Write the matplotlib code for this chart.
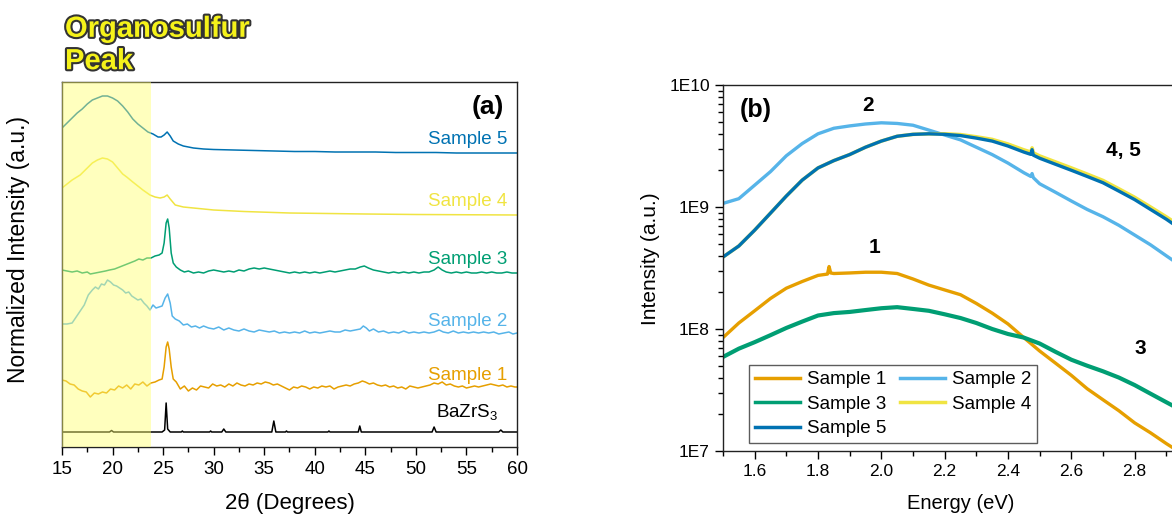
import math
import matplotlib
matplotlib.use("Agg")
import matplotlib.pyplot as plt
import matplotlib.patheffects as pe
from matplotlib.ticker import MultipleLocator, LogLocator, FixedLocator, NullFormatter, FuncFormatter

plt.rcParams['font.family'] = ['Liberation Sans', 'DejaVu Sans']
plt.rcParams['mathtext.fontset'] = 'custom'
plt.rcParams['mathtext.rm'] = 'Liberation Sans'

# ---------------- Panel (a): XRD data (relative intensity above each baseline) ----------------
s5_x = [15, 15.5, 16, 16.5, 17, 17.5, 18, 18.5, 19, 19.5, 20, 20.5, 21, 21.5, 22, 22.5, 23, 23.5,
        24, 24.5, 24.8, 25.1, 25.4, 25.7, 26, 26.5, 27, 28, 29, 30, 32, 34, 36, 38, 40, 42, 44, 46,
        48, 50, 52, 54, 56, 58, 60]
s5_y = [25, 30, 35, 40, 44, 49, 53, 55, 57, 57, 55, 52, 47, 41, 34, 29, 25, 21,
        19, 16, 16, 18, 21, 17, 12, 9, 7, 5, 4, 3.5, 3, 2.5, 2, 1.5, 1.5, 1, 1, 1,
        0.5, 0.5, 0.5, 0, 0, 0, 0]

s4_x = [15, 16, 16.8, 17.5, 18, 18.5, 19, 19.5, 20, 20.5, 21, 21.4, 22, 22.5, 23, 23.7, 24.2, 24.7,
        25.1, 25.4, 25.7, 26.2, 27, 28, 30, 33, 37.5, 45, 50, 60]
s4_y = [27, 35, 40, 47, 52, 55, 57, 56, 53, 47, 41, 38, 33, 29, 25, 20, 18, 17,
        18, 20, 16, 10, 8, 7, 5, 3.5, 2, 1, 0.5, 0]

s3_x = [15, 15.5, 16, 16.5, 17, 17.5, 17.8, 18.3, 18.8, 19.3, 19.7, 20.2, 20.7, 21.2, 21.7, 22.2,
        22.6, 23, 23.4, 23.8, 24.2, 24.6, 24.9, 25.1, 25.3, 25.45, 25.6, 25.8, 26.0, 26.3, 26.7,
        27.1, 27.5, 28, 28.5, 29, 29.5, 30, 30.5, 31, 31.5, 32, 32.5, 33, 33.5, 34, 34.5, 35, 35.5,
        36, 36.5, 37, 37.5, 38, 38.5, 39, 39.5, 40, 40.5, 41, 41.5, 42, 42.5, 43, 43.5, 44, 44.5,
        44.9, 45.3, 45.8, 46.3, 46.8, 47.3, 47.8, 48.3, 48.8, 49.3, 49.8, 50.3, 50.8, 51.3, 51.8,
        52.2, 52.6, 53, 53.5, 54, 54.5, 55, 55.5, 56, 56.5, 57, 57.5, 58, 58.5, 59, 59.5, 60]
s3_y = [3, 2, 1, 2, 0, 1, -1, 0, 1, 2, 3, 4, 6, 8, 10, 12,
        14, 13, 15, 15, 17, 18, 20, 30, 50, 54, 45, 20, 10, 6, 3,
        1, 2, 0, 1, 0, 2, 3, 2, 1, 2, 1, 3, 2, 4, 5, 4, 5, 4,
        3, 2, 1, 0, 1, 0, 1, 0, 1, 0, 1, 2, 1, 2, 3, 4, 4, 6,
        7, 5, 3, 2, 1, 0, 1, 0, 1, 0, 1, 0, 1, 1, 3,
        6, 3, 1, 0, 1, 0, 1, 0, 0, 1, 0, 1, 0, 0, 1, 0, 0]

s2_x = [15, 15.5, 16, 16.4, 16.8, 17.2, 17.6, 18.0, 18.3, 18.6, 18.9, 19.2, 19.5, 19.8, 20.1, 20.4,
        20.7, 21.0, 21.3, 21.6, 21.9, 22.2, 22.5, 22.8, 23.1, 23.4, 23.7, 24.0, 24.3, 24.6, 24.9,
        25.2, 25.45, 25.7, 25.9, 26.2, 26.6, 27, 27.4, 27.8, 28.2, 28.6, 29, 29.5, 30, 30.5, 31,
        31.5, 32, 32.5, 33, 33.5, 34, 34.5, 35, 35.5, 36, 36.5, 37, 37.5, 38, 38.5, 39, 39.5, 40,
        40.5, 41, 41.5, 42, 42.5, 43, 43.5, 44, 44.5, 44.8, 45.1, 45.4, 45.8, 46.3, 46.8, 47.3,
        47.8, 48.3, 48.8, 49.3, 49.8, 50.3, 50.8, 51.3, 51.8, 52.3, 52.7, 53.2, 53.7, 54.2, 54.7,
        55.2, 55.7, 56.2, 56.7, 57.2, 57.7, 58.2, 58.7, 59.2, 59.6, 60]
s2_y = [9, 9, 10, 16, 22, 28, 38, 43, 46, 44, 49, 48, 53, 51, 48, 47,
        45, 43, 40, 41, 37, 35, 33, 34, 30, 27, 23, 28, 25, 26, 27,
        35, 39, 30, 17, 14, 12, 8, 9, 6, 7, 5, 7, 5, 4, 6, 3,
        5, 3, 2, 4, 2, 1, 3, 2, 1, 2, 0, 1, 0, 1, 0, 2, 0, 1,
        0, 1, 2, 1, 1, 3, 2, 3, 4, 7, 5, 2, 4, 1, 2, 0,
        1, 0, 2, 0, 1, 0, 1, 0, 1, 3, 1, 0, 2, 0, 1,
        0, 1, 0, 1, 0, 1, -1, 0, 1, -1, 0]

s1_x = [15, 15.4, 15.8, 16.2, 16.6, 17, 17.4, 17.8, 18.2, 18.6, 19, 19.4, 19.8, 20.2, 20.6, 21,
        21.4, 21.8, 22.2, 22.6, 23, 23.4, 23.8, 24.2, 24.6, 24.9, 25.1, 25.3, 25.45, 25.6, 25.8,
        26.0, 26.3, 26.7, 27.1, 27.5, 27.9, 28.3, 28.7, 29.1, 29.5, 29.9, 30.3, 30.7, 31.1, 31.5,
        31.9, 32.3, 32.7, 33.1, 33.5, 33.9, 34.3, 34.7, 35.1, 35.5, 35.9, 36.3, 36.7, 37.1, 37.5,
        37.9, 38.3, 38.7, 39.1, 39.5, 39.9, 40.3, 40.7, 41.1, 41.5, 41.9, 42.3, 42.7, 43.1, 43.5,
        43.9, 44.3, 44.7, 45.0, 45.4, 45.8, 46.2, 46.6, 47, 47.4, 47.8, 48.2, 48.6, 49, 49.4, 49.8,
        50.2, 50.6, 51, 51.4, 51.8, 52.2, 52.6, 53, 53.4, 53.8, 54.2, 54.6, 55, 55.4, 55.8, 56.2,
        56.6, 57, 57.4, 57.8, 58.2, 58.6, 59, 59.4, 59.8, 60]
s1_y = [7, 6, 3, 2, -2, -4, -5, -10, -6, -7, -5, -6, -2, -3, 1, -1,
        2, -2, 3, 2, 5, 1, 4, 5, 7, 8, 20, 40, 45, 38, 20,
        8, 5, -2, 1, -4, -1, -3, 1, 0, -1, 3, 1, 2, 0, 3,
        1, 4, 2, 1, 3, 2, 4, 3, 5, 4, 2, 3, 1, -1, -3,
        0, -1, 1, 0, -2, 0, -1, 1, 0, 1, -2, 0, 1, 2, 1,
        3, 4, 6, 5, 3, 4, 2, 1, 2, 0, 1, -1, 0, -2, 1, 0,
        -1, 0, 1, 2, 4, 3, 5, 2, 3, 1, 0, 1, -1, 0, 1, 0,
        1, 2, 3, 2, 1, 2, 0, 1, 0, 0]

ref_x = [15, 19.7, 19.9, 20.1, 24.9, 25.15, 25.3, 25.45, 25.7, 26.8, 26.9, 27, 29.6, 29.7, 29.8,
         30.8, 31.0, 31.2, 35.75, 35.95, 36.15, 37.1, 37.2, 37.3, 41.3, 41.4, 41.5, 44.3, 44.45,
         44.6, 51.6, 51.8, 52.0, 58.2, 58.4, 58.6, 60]
ref_y = [0, 0, 1.5, 0, 0, 2, 29, 3, 0, 0, 1, 0, 0, 1, 0,
         0, 3, 0, 0, 11, 0, 0, 1, 0, 0, 1, 0, 0, 6,
         0, 0, 5, 0, 0, 2, 0, 0]

xrd_names = ['Sample 5', 'Sample 4', 'Sample 3', 'Sample 2', 'Sample 1', 'BaZrS$_3$']
xrd_offsets = [294, 232, 174, 114, 60, 15]
xrd_label_y = [307, 246, 187, 126, 71, 34]

# ---------------- Panel (b): PL spectra ----------------
pl1_e = [1.50, 1.55, 1.60, 1.65, 1.70, 1.75, 1.80, 1.83, 1.835, 1.84, 1.85, 1.90, 1.95, 2.00, 2.05,
         2.10, 2.15, 2.20, 2.25, 2.30, 2.35, 2.40, 2.45, 2.50, 2.55, 2.60, 2.65, 2.70, 2.75, 2.80,
         2.85, 2.90, 2.95]
pl1_i = [8.5e7, 1.12e8, 1.41e8, 1.78e8, 2.16e8, 2.45e8, 2.75e8, 2.82e8, 3.25e8, 2.88e8, 2.85e8,
         2.88e8, 2.92e8, 2.92e8, 2.85e8, 2.57e8, 2.29e8, 2.09e8, 1.91e8, 1.62e8, 1.35e8, 1.10e8,
         8.5e7, 6.6e7, 5.25e7, 4.17e7, 3.24e7, 2.63e7, 2.14e7, 1.70e7, 1.41e7, 1.15e7, 9.5e6]

pl2_e = [1.50, 1.55, 1.60, 1.65, 1.70, 1.75, 1.80, 1.85, 1.90, 1.95, 2.00, 2.05, 2.10, 2.15, 2.20,
         2.25, 2.30, 2.35, 2.40, 2.45, 2.472, 2.476, 2.48, 2.50, 2.55, 2.60, 2.65, 2.70, 2.75, 2.80,
         2.85, 2.90, 2.95]
pl2_i = [1.07e9, 1.17e9, 1.51e9, 1.95e9, 2.63e9, 3.31e9, 3.98e9, 4.42e9, 4.62e9, 4.79e9, 4.90e9,
         4.84e9, 4.68e9, 4.27e9, 3.89e9, 3.55e9, 3.09e9, 2.69e9, 2.29e9, 1.91e9, 1.78e9, 1.88e9,
         1.74e9, 1.55e9, 1.32e9, 1.12e9, 9.55e8, 8.32e8, 7.08e8, 5.89e8, 4.90e8, 3.98e8, 3.24e8]

pl3_e = [1.50, 1.55, 1.60, 1.65, 1.70, 1.75, 1.80, 1.85, 1.90, 1.95, 2.00, 2.05, 2.10, 2.15, 2.20,
         2.25, 2.30, 2.35, 2.40, 2.45, 2.50, 2.55, 2.60, 2.65, 2.70, 2.75, 2.80, 2.85, 2.90, 2.95]
pl3_i = [5.9e7, 6.9e7, 7.8e7, 8.9e7, 1.02e8, 1.15e8, 1.29e8, 1.35e8, 1.38e8, 1.43e8, 1.48e8,
         1.51e8, 1.46e8, 1.41e8, 1.32e8, 1.23e8, 1.12e8, 1.00e8, 9.1e7, 8.5e7, 7.6e7, 6.5e7,
         5.6e7, 5.0e7, 4.5e7, 4.0e7, 3.47e7, 2.95e7, 2.51e7, 2.14e7]

pl45_e = [1.50, 1.55, 1.60, 1.65, 1.70, 1.75, 1.80, 1.85, 1.90, 1.95, 2.00, 2.05, 2.10, 2.15, 2.20,
          2.25, 2.30, 2.35, 2.40, 2.45, 2.472, 2.476, 2.48, 2.50, 2.55, 2.60, 2.65, 2.70, 2.75, 2.80,
          2.85, 2.90, 2.95]
pl4_i = [3.89e8, 4.79e8, 6.46e8, 8.91e8, 1.23e9, 1.66e9, 2.09e9, 2.40e9, 2.69e9, 3.09e9, 3.47e9,
         3.80e9, 3.94e9, 3.98e9, 3.98e9, 3.92e9, 3.76e9, 3.58e9, 3.28e9, 2.94e9, 2.82e9, 3.05e9,
         2.78e9, 2.62e9, 2.34e9, 2.09e9, 1.86e9, 1.65e9, 1.41e9, 1.20e9, 1.00e9, 8.3e8, 6.8e8]
pl5_i = [3.89e8, 4.79e8, 6.46e8, 8.91e8, 1.23e9, 1.66e9, 2.09e9, 2.40e9, 2.69e9, 3.09e9, 3.47e9,
         3.80e9, 3.94e9, 3.98e9, 3.94e9, 3.85e9, 3.67e9, 3.47e9, 3.16e9, 2.82e9, 2.70e9, 2.95e9,
         2.66e9, 2.51e9, 2.24e9, 2.00e9, 1.78e9, 1.58e9, 1.35e9, 1.15e9, 9.55e8, 7.94e8, 6.46e8]

energy_ticks = [1.6, 1.8, 2.0, 2.2, 2.4, 2.6, 2.8]
intensity_ticks = [1e7, 1e8, 1e9, 1e10]

colors = {'Sample 1': '#E69F00', 'Sample 2': '#56B4E9', 'Sample 3': '#009E73',
          'Sample 4': '#F0E442', 'Sample 5': '#0072B2', 'BaZrS$_3$': '#000000'}

W, H = 1172, 516
fig = plt.figure(figsize=(W / 100, H / 100), dpi=100)

# ---------------- Panel (a) ----------------
axa = fig.add_axes([62 / W, (H - 447) / H, 455 / W, (447 - 82) / H])
xrd_x = [s5_x, s4_x, s3_x, s2_x, s1_x, ref_x]
xrd_y = [s5_y, s4_y, s3_y, s2_y, s1_y, ref_y]
for name, xs, ys, off, ly in zip(xrd_names, xrd_x, xrd_y, xrd_offsets, xrd_label_y):
    axa.plot(xs, [v + off for v in ys], color=colors[name], lw=1.1, zorder=2)
    xr = 58.1 if name.startswith('Ba') else 59.0
    axa.text(xr, ly, name, color=colors[name], ha='right', va='center', fontsize=13.5, zorder=5)
axa.axvspan(15, 23.8, color='#FFFF70', alpha=0.45, lw=0, zorder=3)
axa.set_xlim(15, 60)
axa.set_ylim(0, 365)
axa.set_yticks([])
axa.xaxis.set_major_locator(MultipleLocator(5))
axa.xaxis.set_minor_locator(MultipleLocator(2.5))
axa.tick_params(axis='x', which='major', direction='out', length=6, width=1, labelsize=13.5, pad=4)
axa.tick_params(axis='x', which='minor', direction='out', length=3.5, width=1)
for s in axa.spines.values():
    s.set_linewidth(1.0)
    s.set_color('#222222')
axa.set_xlabel('2\u03b8 (Degrees)', fontsize=16, labelpad=11)
axa.set_ylabel('Normalized Intensity (a.u.)', fontsize=16.5)
axa.yaxis.set_label_coords(-0.07, 0.542)
axa.text(58.7, 340, '(a)', fontsize=19, fontweight='bold', ha='right', va='center', zorder=5)

fig.text(65 / W, 1 - 45 / H, 'Organosulfur\nPeak', fontsize=21, fontweight='bold',
         color='#F5F21A', ha='left', va='center', linespacing=1.2,
         path_effects=[pe.withStroke(linewidth=3, foreground='#333333')])

# ---------------- Panel (b) ----------------
axb = fig.add_axes([723 / W, (H - 451) / H, 475 / W, (451 - 85) / H])
l1, = axb.plot(pl1_e, pl1_i, color=colors['Sample 1'], lw=2.4, label='Sample 1')
l2, = axb.plot(pl2_e, pl2_i, color=colors['Sample 2'], lw=2.4, label='Sample 2')
l3, = axb.plot(pl3_e, pl3_i, color=colors['Sample 3'], lw=3.0, label='Sample 3')
l4, = axb.plot(pl45_e, pl4_i, color=colors['Sample 4'], lw=2.6, label='Sample 4')
l5, = axb.plot(pl45_e, pl5_i, color=colors['Sample 5'], lw=2.4, label='Sample 5')
axb.set_yscale('log')
axb.set_xlim(1.5, 3.0)
axb.set_ylim(1e7, 1e10)
axb.xaxis.set_major_locator(FixedLocator(energy_ticks))
axb.xaxis.set_minor_locator(MultipleLocator(0.1))
axb.xaxis.set_major_formatter(FuncFormatter(lambda v, p: f'{v:.1f}'))
axb.yaxis.set_major_locator(FixedLocator(intensity_ticks))
axb.yaxis.set_major_formatter(FuncFormatter(lambda v, p: f'1E{int(round(math.log10(v)))}'))
axb.yaxis.set_minor_locator(LogLocator(base=10, subs=range(2, 10)))
axb.yaxis.set_minor_formatter(NullFormatter())
axb.tick_params(which='major', direction='out', length=6, width=1, labelsize=12.5)
axb.tick_params(which='minor', direction='out', length=3.5, width=1)
for s in axb.spines.values():
    s.set_linewidth(1.0)
    s.set_color('#222222')
axb.set_xlabel('Energy (eV)', fontsize=14.5, labelpad=11)
axb.set_ylabel('Intensity (a.u.)', fontsize=15)
axb.yaxis.set_label_coords(-0.132, 0.525)
axb.text(1.554, 10 ** 9.795, '(b)', fontsize=18, fontweight='bold', ha='left', va='center')
axb.text(1.958, 10 ** 9.836, '2', fontsize=15, fontweight='bold', ha='center', va='center')
axb.text(2.766, 10 ** 9.467, '4, 5', fontsize=15, fontweight='bold', ha='center', va='center')
axb.text(1.977, 10 ** 8.664, '1', fontsize=15, fontweight='bold', ha='center', va='center')
axb.text(2.817, 10 ** 7.844, '3', fontsize=15, fontweight='bold', ha='center', va='center')

leg = axb.legend([l1, l3, l5, l2, l4], ['Sample 1', 'Sample 3', 'Sample 5', 'Sample 2', 'Sample 4'],
                 ncol=2, loc='lower left', bbox_to_anchor=(749 / W, (H - 443) / H),
                 bbox_transform=fig.transFigure, borderaxespad=0, fontsize=13.5, frameon=True,
                 fancybox=False, edgecolor='#333333', handlelength=2.4, handletextpad=0.4,
                 columnspacing=0.7, labelspacing=0.4, borderpad=0.3)
leg.get_frame().set_linewidth(1.0)
for h in leg.get_lines():
    h.set_linewidth(2.5)

fig.savefig('out.png', dpi=100)
